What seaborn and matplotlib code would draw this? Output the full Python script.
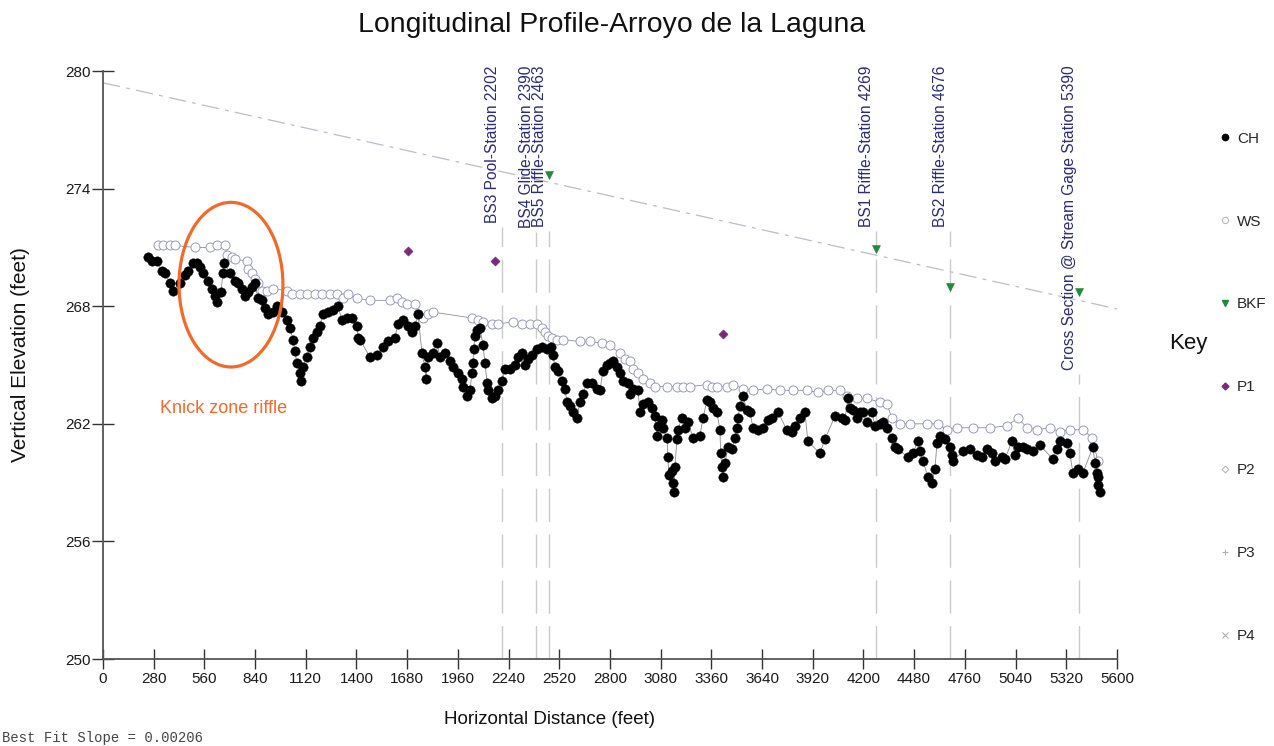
import numpy as np
import pandas as pd
import matplotlib
matplotlib.use('Agg')
import matplotlib.pyplot as plt
from matplotlib.patches import Ellipse
from matplotlib.lines import Line2D
import seaborn as sns

# channel thalweg (CH) survey points
ch_x = [250, 271, 298, 326, 342, 370, 387, 425, 453, 469, 497, 519, 536, 552, 580, 602, 619, 630,
        652, 663, 668, 701, 729, 746, 768, 784, 801, 823, 839, 856, 878, 895, 911, 939, 961, 989,
        1016, 1033, 1049, 1060, 1071, 1088, 1095, 1105, 1127, 1143, 1160, 1182, 1198, 1215, 1243,
        1270, 1298, 1320, 1348, 1375, 1403, 1408, 1419, 1475, 1513, 1546, 1574, 1613, 1629, 1657,
        1684, 1707, 1723, 1740, 1762, 1778, 1784, 1795, 1822, 1845, 1861, 1889, 1916, 1933, 1961,
        1983, 1988, 2010, 2027, 2038, 2043, 2048, 2054, 2065, 2082, 2099, 2110, 2121, 2126, 2148,
        2165, 2181, 2204, 2220, 2248, 2275, 2292, 2314, 2331, 2347, 2369, 2397, 2424, 2452, 2474,
        2485, 2496, 2513, 2535, 2551, 2563, 2579, 2596, 2618, 2634, 2651, 2673, 2701, 2728, 2745,
        2761, 2783, 2800, 2817, 2839, 2855, 2872, 2899, 2910, 2927, 2955, 2966, 2982, 3010, 3032,
        3049, 3060, 3065, 3087, 3093, 3115, 3120, 3125, 3142, 3148, 3153, 3159, 3170, 3175, 3198,
        3214, 3231, 3258, 3297, 3314, 3336, 3352, 3369, 3391, 3407, 3412, 3418, 3424, 3435, 3452,
        3474, 3490, 3501, 3507, 3518, 3535, 3557, 3573, 3590, 3617, 3645, 3673, 3695, 3728, 3777,
        3805, 3822, 3849, 3877, 3893, 3960, 3987, 4043, 4081, 4098, 4114, 4125, 4142, 4164, 4181,
        4197, 4219, 4247, 4263, 4291, 4308, 4330, 4357, 4374, 4391, 4446, 4473, 4501, 4512, 4529,
        4556, 4578, 4595, 4606, 4622, 4650, 4678, 4689, 4694, 4750, 4788, 4827, 4854, 4882, 4910,
        4926, 4965, 4981, 5020, 5037, 5053, 5081, 5103, 5136, 5175, 5247, 5269, 5285, 5324, 5340,
        5357, 5385, 5412, 5467, 5479, 5490, 5493, 5495, 5506]
ch_y = [270.5, 270.3, 270.3, 269.8, 269.7, 269.2, 268.8, 269.2, 269.6, 269.8, 270.2, 270.2, 270.0,
        269.7, 269.3, 268.9, 268.5, 268.2, 268.7, 269.7, 270.2, 269.7, 269.3, 269.2, 268.9, 268.5,
        268.7, 269.0, 269.2, 268.4, 268.3, 267.9, 267.6, 267.7, 268.0, 267.7, 267.3, 266.9, 266.3,
        265.7, 265.1, 264.6, 264.2, 264.9, 265.4, 265.9, 266.4, 266.7, 267.0, 267.6, 267.7, 267.8,
        268.0, 267.3, 267.4, 267.4, 267.0, 266.4, 266.3, 265.4, 265.5, 265.9, 266.2, 266.4, 267.1,
        267.3, 267.0, 266.7, 267.0, 267.6, 265.6, 264.9, 264.3, 265.4, 265.6, 266.1, 265.4, 265.6,
        265.2, 264.9, 264.6, 264.3, 263.9, 263.4, 263.7, 264.6, 265.1, 265.8, 266.5, 266.8, 266.9,
        266.0, 265.1, 264.1, 263.7, 263.3, 263.4, 263.7, 264.2, 264.8, 264.8, 265.0, 265.4, 265.6,
        265.0, 265.3, 265.5, 265.8, 265.9, 265.8, 265.9, 265.5, 264.9, 264.7, 264.2, 263.8, 263.1,
        262.9, 262.6, 262.3, 263.1, 263.5, 264.1, 264.1, 263.8, 263.7, 264.7, 265.0, 265.1, 265.2,
        264.9, 264.6, 264.2, 264.1, 263.5, 263.8, 263.7, 262.6, 263.0, 263.1, 262.8, 262.4, 261.4,
        261.9, 262.2, 261.8, 261.3, 260.3, 259.4, 259.6, 259.0, 258.5, 259.8, 261.2, 261.7, 262.3,
        261.8, 262.1, 261.3, 261.4, 262.3, 263.2, 263.1, 262.8, 262.6, 261.7, 260.5, 259.8, 259.3,
        260.0, 260.8, 260.7, 261.3, 261.8, 262.3, 262.9, 263.4, 262.7, 262.6, 261.8, 261.7, 261.8,
        262.2, 262.3, 262.6, 261.7, 261.6, 261.9, 262.3, 262.6, 261.1, 260.5, 261.2, 262.4, 262.3,
        262.2, 263.3, 262.8, 262.7, 262.3, 262.6, 262.6, 262.1, 262.6, 261.9, 262.0, 262.1, 261.8,
        261.3, 260.8, 260.7, 260.3, 260.5, 261.1, 260.6, 260.1, 259.3, 259.0, 259.7, 261.0, 261.4,
        261.2, 260.8, 260.4, 260.1, 260.6, 260.7, 260.4, 260.3, 260.7, 260.5, 260.1, 260.3, 260.2,
        261.1, 260.4, 260.8, 260.8, 260.7, 260.6, 260.9, 260.2, 260.7, 261.1, 261.0, 260.5, 259.5,
        259.7, 259.5, 260.8, 260.0, 259.5, 259.3, 258.9, 258.5]

# water surface (WS)
ws_x = [304, 331, 370, 398, 508, 591, 630, 674, 685, 712, 729, 795, 801, 823, 839, 856, 878, 906,
        939, 1016, 1044, 1088, 1127, 1171, 1209, 1254, 1292, 1325, 1353, 1403, 1475, 1585, 1624,
        1651, 1679, 1723, 1740, 1767, 1795, 1822, 2038, 2071, 2099, 2148, 2181, 2264, 2314, 2358,
        2397, 2424, 2441, 2458, 2480, 2507, 2540, 2634, 2690, 2756, 2800, 2855, 2883, 2910, 2927,
        2955, 2982, 3021, 3049, 3115, 3170, 3203, 3242, 3336, 3363, 3391, 3446, 3479, 3535, 3590,
        3667, 3739, 3811, 3888, 3949, 4004, 4070, 4109, 4164, 4219, 4291, 4330, 4357, 4402, 4457,
        4551, 4611, 4661, 4716, 4805, 4899, 4993, 5053, 5103, 5158, 5230, 5285, 5340, 5412, 5462,
        5495]
ws_y = [271.1, 271.1, 271.1, 271.1, 271.0, 271.0, 271.1, 271.1, 270.6, 270.5, 270.4, 270.3, 269.9,
        269.7, 269.4, 269.2, 268.8, 268.8, 268.9, 268.8, 268.6, 268.6, 268.6, 268.6, 268.6, 268.6,
        268.6, 268.4, 268.6, 268.4, 268.3, 268.3, 268.4, 268.2, 268.1, 268.1, 267.6, 267.4, 267.6,
        267.7, 267.4, 267.3, 267.2, 267.1, 267.1, 267.2, 267.1, 267.1, 267.1, 266.9, 266.7, 266.5,
        266.4, 266.3, 266.3, 266.2, 266.2, 266.1, 266.0, 265.6, 265.3, 265.2, 264.8, 264.6, 264.3,
        264.1, 263.9, 263.9, 263.9, 263.9, 263.9, 264.0, 263.9, 263.9, 263.9, 264.0, 263.8, 263.7,
        263.8, 263.7, 263.7, 263.7, 263.6, 263.7, 263.7, 263.4, 263.3, 263.3, 263.1, 263.0, 262.3,
        262.0, 262.0, 262.0, 262.0, 261.7, 261.8, 261.8, 261.8, 261.9, 262.3, 261.8, 261.7, 261.8,
        261.6, 261.7, 261.7, 261.3, 260.1]

# bankfull (BKF) and P1 points
bkf_x = [2463, 4269, 4676, 5390]
bkf_y = [274.7, 270.9, 269.0, 268.7]
p1_x = [1684, 2165, 3424]
p1_y = [270.8, 270.3, 266.6]

# best fit line through bankfull
fit_intercept = 279.4
fit_slope = 0.00206

station_x = [2202, 2390, 2463, 4269, 4676, 5390]
station_labels = ['BS3 Pool-Station 2202', 'BS4 Glide-Station 2390', 'BS5 Riffle-Station 2463',
                  'BS1 Riffle-Station 4269', 'BS2 Riffle-Station 4676',
                  'Cross Section @ Stream Gage Station 5390']

x_ticks = list(range(0, 5601, 280))
y_ticks = [250, 256, 262, 268, 274, 280]

sns.set_style('white')
plt.rcParams['font.family'] = ['Liberation Sans', 'DejaVu Sans']

fig = plt.figure(figsize=(12.74, 7.46), dpi=100)
ax = fig.add_axes([0.0808, 0.1166, 0.7959, 0.7882])

ch = pd.DataFrame({'x': ch_x, 'y': ch_y})
ws = pd.DataFrame({'x': ws_x, 'y': ws_y})

# connecting lines
sns.lineplot(data=ws, x='x', y='y', sort=False, estimator=None, color='#8f8f9f', lw=0.6, ax=ax, zorder=2)
sns.lineplot(data=ch, x='x', y='y', sort=False, estimator=None, color='#8a8a8a', lw=0.6, ax=ax, zorder=3)
sns.scatterplot(data=ws, x='x', y='y', marker='o', s=42, facecolor='white', edgecolor='#9a9ac2',
                linewidth=0.7, ax=ax, zorder=3)
sns.scatterplot(data=ch, x='x', y='y', marker='o', s=46, color='black', edgecolor='black',
                linewidth=0.3, ax=ax, zorder=4)
sns.scatterplot(x=bkf_x, y=bkf_y, marker='v', s=32, color='#1d8a3c', edgecolor='#1d8a3c', ax=ax, zorder=5)
sns.scatterplot(x=p1_x, y=p1_y, marker='D', s=22, color='#7a2a7a', edgecolor='#7a2a7a', ax=ax, zorder=5)

ax.axline((0, fit_intercept), slope=-fit_slope, color='#bcbccc', lw=0.9,
          dashes=(14, 5, 3, 5), zorder=1)

ax.set_xlim(0, 5600)
ax.set_ylim(250, 280)
ax.set_xticks(x_ticks)
ax.set_yticks(y_ticks)
ax.set_xlabel('')
ax.set_ylabel('')
ax.tick_params(axis='x', bottom=True, direction='inout', length=15, width=1, color='#333333',
               labelsize=11, labelcolor='#1a1a1a', pad=2)
ax.tick_params(axis='y', left=True, direction='inout', length=16, width=1, color='#333333',
               labelsize=11, labelcolor='#1a1a1a', pad=1)
for side in ['top', 'right']:
    ax.spines[side].set_visible(False)
for side in ['left', 'bottom']:
    ax.spines[side].set_color('#555555')
    ax.spines[side].set_linewidth(1.3)

# station labels and vertical marker lines
labels = []
for sx, lab in zip(station_x, station_labels):
    t = ax.text(sx - 8, 280.3, lab, rotation=90, ha='right', va='top', fontsize=11.2,
                color='#2b2b78', clip_on=False)
    labels.append(t)
fig.canvas.draw()
inv = ax.transData.inverted()
for sx, t in zip(station_x, labels):
    bb = t.get_window_extent()
    top = inv.transform((0, bb.y0 - 4))[1]
    ax.vlines(sx, 250, top, colors='#cbcbcb', lw=1.0, linestyles=(0, (24, 9)), zorder=1)

# knick zone annotation
ax.add_patch(Ellipse((707, 269.1), 574, 8.4, fill=False, ec='#f26a2a', lw=2.3, zorder=6))
ax.text(315, 262.76, 'Knick zone riffle', color='#f26a2a', fontsize=13, va='center', ha='left')

fig.text(612 / 1274, 1 - 25 / 746, 'Longitudinal Profile-Arroyo de la Laguna', fontsize=20.4,
         ha='center', va='center', color='#111111')
fig.text(21 / 1274, 1 - 355 / 746, 'Vertical Elevation (feet)', fontsize=15, rotation=90,
         ha='center', va='center', color='#111111')
fig.text(550 / 1274, 1 - 720 / 746, 'Horizontal Distance (feet)', fontsize=13.5,
         ha='center', va='center', color='#111111')
fig.text(2 / 1274, 1 - 738 / 746, 'Best Fit Slope = 0.00206', fontsize=10,
         family='Liberation Mono', ha='left', va='center', color='#444444')
fig.text(1188 / 1274, 1 - 343 / 746, 'Key', fontsize=16, ha='center', va='center', color='#111111')

handles = [
    Line2D([], [], ls='', marker='o', ms=4.5, color='black'),
    Line2D([], [], ls='', marker='o', ms=4.5, mfc='white', mec='#b0b0c0', mew=0.7),
    Line2D([], [], ls='', marker='v', ms=5, color='#1d8a3c'),
    Line2D([], [], ls='', marker='D', ms=3.5, color='#7a2a7a'),
    Line2D([], [], ls='', marker='D', ms=3.5, mfc='white', mec='#b0b0c0', mew=0.7),
    Line2D([], [], ls='', marker='+', ms=5, color='#b0b0b0', mew=0.8),
    Line2D([], [], ls='', marker='x', ms=4, color='#b0b0b0', mew=0.8),
]
fig.legend(handles, ['CH', 'WS', 'BKF', 'P1', 'P2', 'P3', 'P4'], loc='upper left',
           bbox_to_anchor=(1211 / 1274, 1 - 124 / 746), frameon=False, fontsize=11,
           labelspacing=4.51, handlelength=0.8, handletextpad=0.4, borderpad=0)

fig.savefig('out.png', dpi=100)
